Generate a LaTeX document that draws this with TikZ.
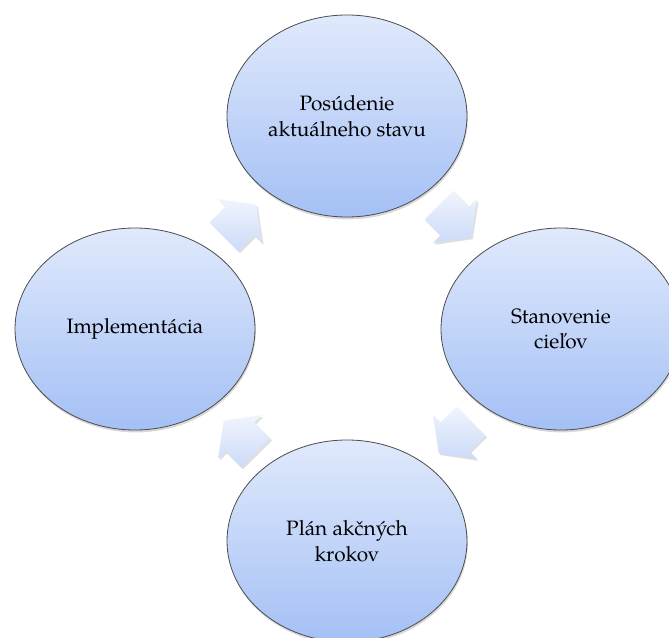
\documentclass[tikz,border=0pt]{standalone}
\usepackage{fontspec}
\setmainfont{TeX Gyre Pagella}
\usetikzlibrary{shapes.geometric,shadows}
\definecolor{ellTop}{RGB}{224,233,252}
\definecolor{ellBot}{RGB}{164,192,245}
\definecolor{arrTop}{RGB}{240,244,253}
\definecolor{arrBot}{RGB}{204,219,248}
\newcommand\cyclearrow[4]{%
  \coordinate (#1) at (#2,#3);
  \path[cyc, shift={(#1)}, rotate=#4]
    (-22.5,20.5) -- (0,20.5) -- (0,31) -- (23,0) -- (0,-31) -- (0,-20.5) -- (-22.5,-20.5) -- cycle;
}
\begin{document}
\begin{tikzpicture}[x=0.75pt,y=0.75pt,
  stage/.style={ellipse, draw=black!70, line width=0.6pt, top color=ellTop, bottom color=ellBot,
    minimum width=180pt, minimum height=151.5pt, inner sep=0pt, align=center,
    font=\fontsize{15.6}{19}\selectfont,
    drop shadow={opacity=0.3, shadow xshift=0.6pt, shadow yshift=-1.8pt}},
  cyc/.style={top color=arrTop, bottom color=arrBot, draw=none,
    drop shadow={opacity=0.25, shadow xshift=1.2pt, shadow yshift=-1.4pt}}
]
\fill[white] (0,0) rectangle (669,-638);
\useasboundingbox (0,0) rectangle (669,-638);
\node[stage] (assess) at (347,-116) {Posúdenie\\aktuálneho stavu};
\node[stage] (goals) at (561,-329) {Stanovenie\\cieľov};
\node[stage] (plan) at (347,-541) {Plán akčných\\krokov};
\node[stage] (impl) at (135,-329) {Implementácia};
\cyclearrow{a1}{240}{-221}{45}
\cyclearrow{a2}{455}{-221}{-45}
\cyclearrow{a3}{455}{-437}{-135}
\cyclearrow{a4}{240}{-437}{135}
\end{tikzpicture}
\end{document}
